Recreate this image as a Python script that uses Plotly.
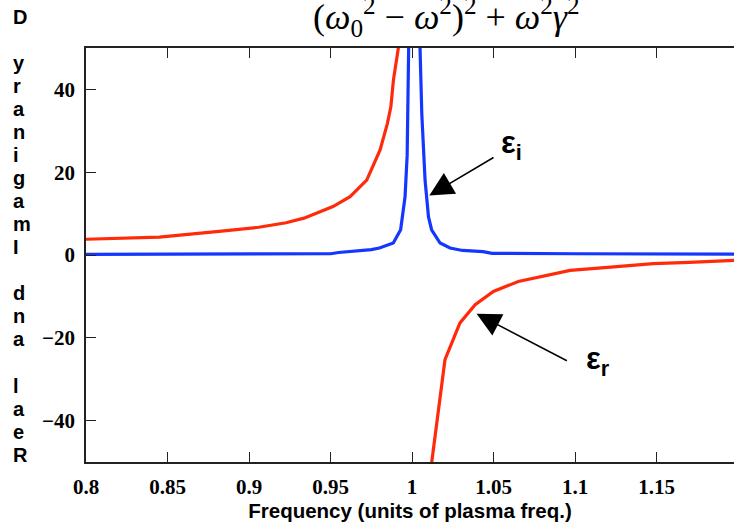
import plotly.graph_objects as go

# ---- data ----
freq_eps_r_left = [0.80, 0.845, 0.8816, 0.906, 0.9227, 0.9337, 0.9515, 0.962, 0.9722, 0.9804, 0.9849, 0.987, 0.9886, 0.9916, 0.9935]
eps_r_left      = [3.8, 4.3, 5.7, 6.7, 7.8, 8.9, 11.7, 14.1, 18.1, 25.4, 31.8, 35.8, 42.3, 50.0, 60.0]

freq_eps_r_right = [1.0105, 1.0121, 1.0202, 1.0294, 1.0387, 1.0499, 1.0652, 1.0888, 1.0970, 1.1200, 1.1480, 1.1700, 1.1975]
eps_r_right      = [-60.0, -50.0, -25.3, -16.4, -12.0, -8.8, -6.4, -4.4, -3.7, -3.0, -2.1, -1.8, -1.3]

freq_eps_i = [0.80, 0.85, 0.90, 0.95, 0.955, 0.965, 0.975, 0.980, 0.9855, 0.9885, 0.9930, 0.9957, 0.9970,
              0.9985, 1.0015, 1.0049, 1.0060, 1.0080, 1.0101, 1.0120, 1.0172, 1.0233, 1.0310, 1.0436,
              1.0490, 1.10, 1.15, 1.1975]
eps_i      = [0.15, 0.2, 0.25, 0.3, 0.6, 0.9, 1.3, 1.7, 2.5, 2.9, 6.1, 14.0, 24.0,
              55.0, 150.0, 50.0, 34.0, 18.0, 9.2, 6.1, 2.9, 1.7, 1.1, 0.8,
              0.4, 0.3, 0.25, 0.2]

x_tickvals = [0.8, 0.85, 0.9, 0.95, 1.0, 1.05, 1.1, 1.15]
x_ticktext = ["0.8", "0.85", "0.9", "0.95", "1", "1.05", "1.1", "1.15"]
y_tickvals = [-40, -20, 0, 20, 40]
y_ticktext = ["\u221240", "\u221220", "0", "20", "40"]

y_label = "Real and Imaginary D"
x_label = "Frequency (units of plasma freq.)"

RED = "#ff2a0a"
BLUE = "#1437ff"

fig = go.Figure()
fig.add_trace(go.Scatter(x=freq_eps_i, y=eps_i, mode="lines",
                         line=dict(color=BLUE, width=3.2), showlegend=False))
fig.add_trace(go.Scatter(x=freq_eps_r_left, y=eps_r_left, mode="lines",
                         line=dict(color=RED, width=3.2), showlegend=False))
fig.add_trace(go.Scatter(x=freq_eps_r_right, y=eps_r_right, mode="lines",
                         line=dict(color=RED, width=3.2), showlegend=False))

tickfont = dict(family="Times New Roman, Liberation Serif, serif", size=21, color="black", weight="bold")

fig.update_xaxes(range=[0.8, 1.1975], tickvals=x_tickvals,
                 ticktext=["<b>%s</b>" % t for t in x_ticktext],
                 ticks="inside", ticklen=10, tickwidth=1, tickcolor="#222",
                 showline=True, linecolor="#222", linewidth=1.5, mirror="ticks",
                 showgrid=False, zeroline=False, tickfont=tickfont, ticklabelstandoff=5,
                 title=dict(text="<b>%s</b>" % x_label, standoff=6,
                            font=dict(family="Liberation Sans", size=20.5, color="black", weight="bold")))
fig.update_yaxes(range=[-50, 50], tickvals=y_tickvals,
                 ticktext=["<b>%s</b>" % t for t in y_ticktext],
                 ticks="inside", ticklen=10, tickwidth=1, tickcolor="#222",
                 showline=True, linecolor="#222", linewidth=1.5, mirror=False,
                 showgrid=False, zeroline=False, tickfont=tickfont, ticklabelstandoff=5)

# stacked (reversed) y label, one letter per row, left aligned
plot_top, plot_h = 48.0, 414.5
row0_y, row_step = 17.0, 23.06
lab_x_paper = (11 - 86) / 648.0
for i, ch in enumerate(reversed(y_label)):
    if ch == " ":
        continue
    ypix = row0_y + i * row_step
    fig.add_annotation(text="<b>%s</b>" % ch, xref="paper", yref="paper", x=lab_x_paper,
                       y=1 - (ypix - plot_top) / plot_h,
                       xanchor="left", yanchor="middle", showarrow=False,
                       font=dict(family="Liberation Sans", size=20, color="black", weight="bold"))

# formula at the top (cut off by the edge)
formula = ("(<i>\u03c9</i><sub>0</sub><sup>2</sup> \u2212 <i>\u03c9</i><sup>2</sup>)<sup>2</sup>"
           " + <i>\u03c9</i><sup>2</sup><i>\u03b3</i><sup>2</sup>")
fig.add_annotation(text=formula, xref="paper", yref="paper", x=(446 - 86) / 648.0, y=1.074,
                   xanchor="center", yanchor="middle", showarrow=False,
                   font=dict(family="Liberation Serif", size=36, color="black"))

# labels and arrows
lab_font = dict(family="Liberation Sans", size=31, color="black", weight="bold")
fig.add_annotation(text="<b>\u03b5<sub>i</sub></b>", x=1.0535, y=26.5, xanchor="left", yanchor="middle",
                   showarrow=False, font=lab_font)
fig.add_annotation(text="<b>\u03b5<sub>r</sub></b>", x=1.1055, y=-25.5, xanchor="left", yanchor="middle",
                   showarrow=False, font=lab_font)
fig.add_annotation(text="", x=1.0106, y=14.35, ax=65.7, ay=-39, showarrow=True,
                   arrowhead=2, arrowsize=3.2, arrowwidth=1.5, arrowcolor="black", standoff=0)
fig.add_annotation(text="", x=1.0396, y=-14.2, ax=91.8, ay=47.7, showarrow=True,
                   arrowhead=2, arrowsize=3.2, arrowwidth=1.5, arrowcolor="black", standoff=0)

fig.update_layout(width=734, height=524, autosize=False,
                  margin=dict(l=86, r=0, t=48, b=61.5),
                  paper_bgcolor="white", plot_bgcolor="white")

fig.write_html("out.html")
